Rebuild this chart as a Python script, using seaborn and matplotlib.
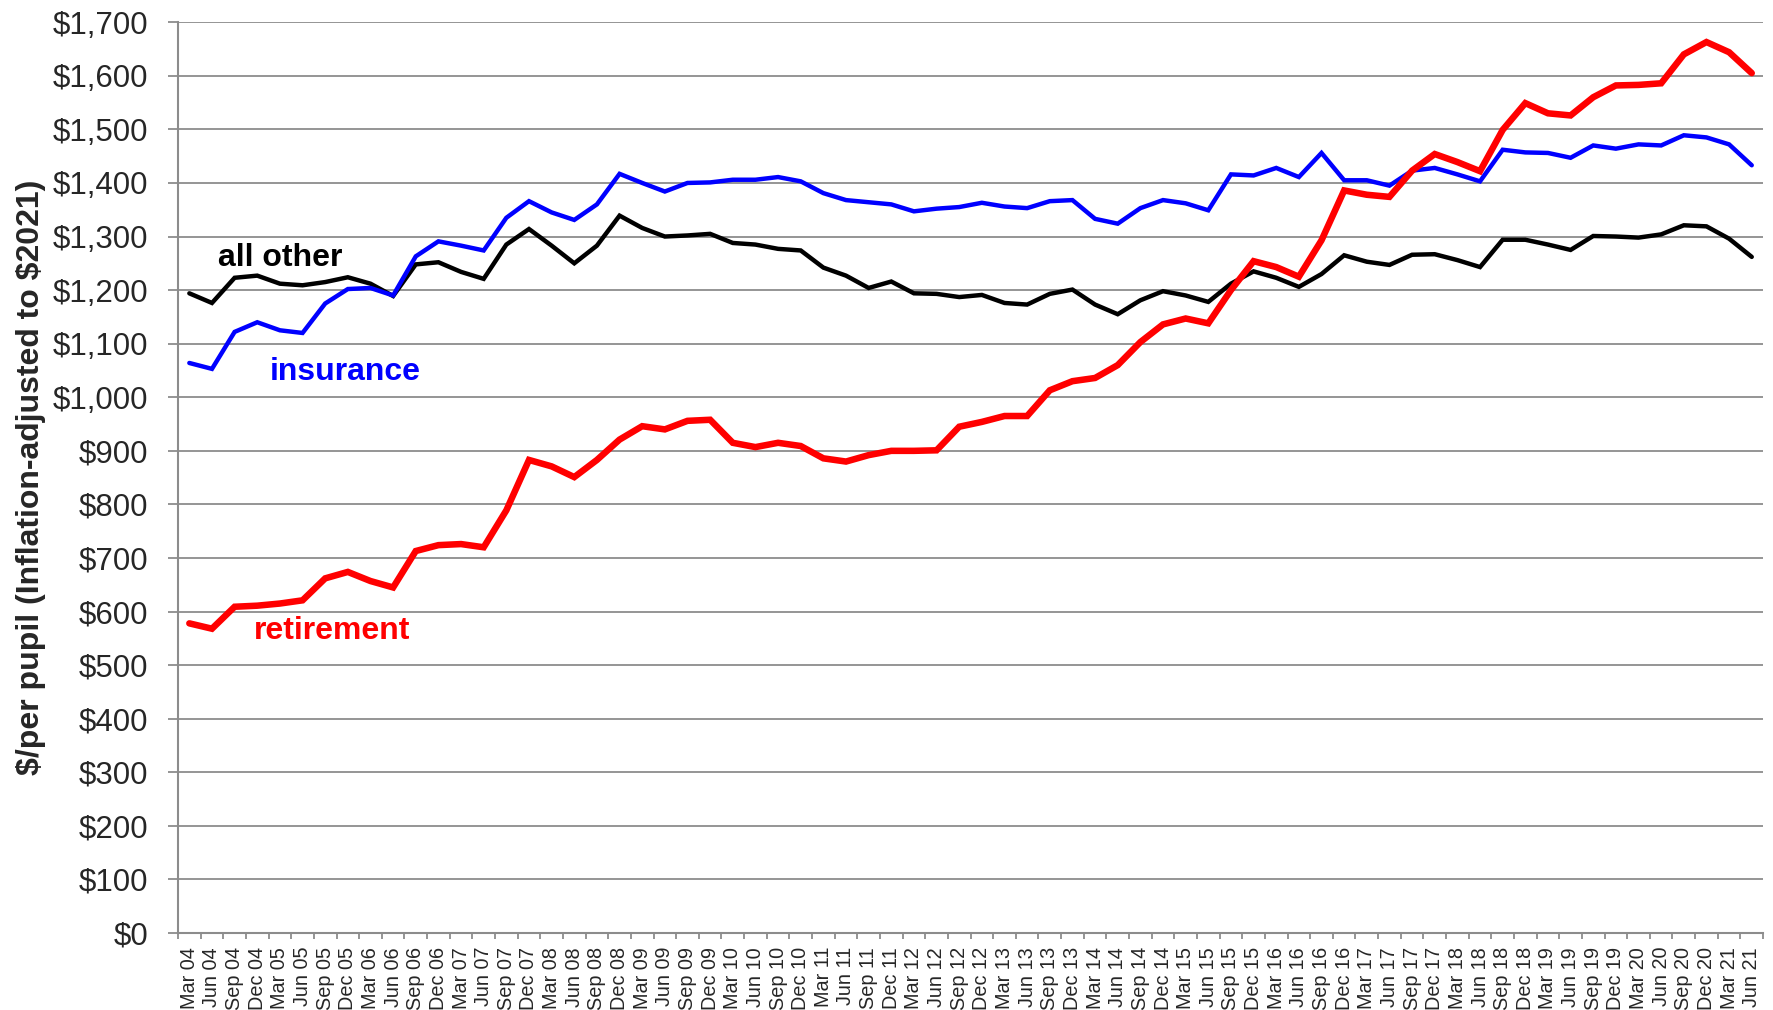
import numpy as np
import pandas as pd
import matplotlib
matplotlib.use("Agg")
import matplotlib.pyplot as plt
import seaborn as sns
from matplotlib.ticker import FuncFormatter, FixedLocator

# ---- data ----
years = list(range(2004, 2022))
months = ["Mar", "Jun", "Sep", "Dec"]
quarters = [f"{m} {str(y)[2:]}" for y in years for m in months][:70]

all_other = [1194, 1176, 1223, 1227, 1212, 1209, 1215, 1224, 1212, 1189,
             1248, 1252, 1234, 1221, 1285, 1314, 1283, 1250, 1283, 1339,
             1316, 1300, 1302, 1305, 1288, 1285, 1277, 1274, 1242, 1227,
             1204, 1216, 1194, 1193, 1187, 1191, 1176, 1173, 1193, 1201,
             1173, 1155, 1181, 1198, 1190, 1178, 1212, 1235, 1223, 1206,
             1230, 1265, 1253, 1247, 1266, 1267, 1256, 1243, 1294, 1294,
             1285, 1275, 1301, 1300, 1298, 1304, 1321, 1319, 1296, 1262]

insurance = [1064, 1053, 1122, 1140, 1125, 1120, 1175, 1202, 1204, 1190,
             1263, 1291, 1283, 1274, 1335, 1366, 1345, 1331, 1360, 1417,
             1400, 1384, 1400, 1401, 1406, 1406, 1411, 1403, 1381, 1368,
             1364, 1360, 1347, 1352, 1355, 1363, 1356, 1353, 1366, 1368,
             1333, 1324, 1353, 1368, 1362, 1349, 1416, 1414, 1428, 1411,
             1456, 1405, 1405, 1395, 1423, 1428, 1416, 1403, 1462, 1457,
             1456, 1447, 1470, 1464, 1472, 1470, 1489, 1485, 1472, 1433]

retirement = [578, 568, 609, 611, 615, 621, 662, 674, 657, 645,
              713, 724, 726, 720, 789, 883, 871, 851, 883, 921,
              946, 940, 956, 958, 915, 907, 915, 909, 886, 880,
              892, 900, 900, 901, 945, 954, 965, 965, 1013, 1030,
              1036, 1060, 1103, 1136, 1147, 1138, 1200, 1254, 1243, 1225,
              1293, 1386, 1378, 1374, 1423, 1454, 1439, 1422, 1499, 1549,
              1530, 1526, 1560, 1582, 1583, 1586, 1640, 1663, 1644, 1605]

series_names = ["all other", "insurance", "retirement"]
series_colors = {"all other": "#000000", "insurance": "#0000FF", "retirement": "#FF0000"}
series_widths = {"all other": 3.2, "insurance": 3.2, "retirement": 4.7}

pos = np.arange(len(quarters))
df = pd.concat([
    pd.DataFrame({"pos": pos, "value": vals, "series": name})
    for name, vals in zip(series_names, [all_other, insurance, retirement])
], ignore_index=True)

# ---- plot ----
sns.set_theme(style="white")
plt.rcParams["font.family"] = ["Liberation Sans", "DejaVu Sans"]

fig = plt.figure(figsize=(17.73, 10.10), dpi=100)
ax = fig.add_axes([0.1004, 0.0762, 0.894, 0.9018])

for name in series_names:
    sns.lineplot(data=df[df["series"] == name], x="pos", y="value", ax=ax,
                 color=series_colors[name], linewidth=series_widths[name],
                 legend=False, solid_joinstyle="miter", solid_capstyle="round",
                 zorder=3)

ax.set_xlim(-0.5, len(quarters) - 0.5)
ax.set_ylim(0, 1700)
ax.set_yticks(np.arange(0, 1701, 100))
ax.yaxis.set_major_formatter(FuncFormatter(lambda v, p: f"${int(v):,}"))
ax.grid(axis="y", color="#8c8c8c", linewidth=1.3)
ax.grid(axis="x", visible=False)
ax.set_axisbelow(True)

ax.set_xticks(pos)
ax.set_xticklabels(quarters, rotation=90, fontsize=14.3)
ax.xaxis.set_minor_locator(FixedLocator(np.arange(-0.5, len(quarters), 1.0)))
ax.tick_params(axis="x", which="major", length=0, pad=10)
ax.tick_params(axis="x", which="minor", length=4, width=1.3, color="#8c8c8c",
               direction="out", bottom=True)
ax.tick_params(axis="y", which="major", length=7.2, width=1.3, color="#8c8c8c",
               direction="out", left=True, labelsize=22.5, pad=14)

for s in ["top", "right"]:
    ax.spines[s].set_visible(False)
for s in ["left", "bottom"]:
    ax.spines[s].set_color("#8c8c8c")
    ax.spines[s].set_linewidth(1.5)

ax.set_xlabel("")
ax.set_ylabel("\\$/per pupil (Inflation-adjusted to \\$2021)", fontsize=23,
              fontweight="bold", labelpad=5)

ax.text(4.0, 1259, "all other", color="#000000", fontsize=23, fontweight="bold",
        ha="center", va="center")
ax.text(6.9, 1047, "insurance", color="#0000FF", fontsize=23, fontweight="bold",
        ha="center", va="center")
ax.text(6.3, 563, "retirement", color="#FF0000", fontsize=23, fontweight="bold",
        ha="center", va="center")

fig.savefig("out.png", dpi=100)
